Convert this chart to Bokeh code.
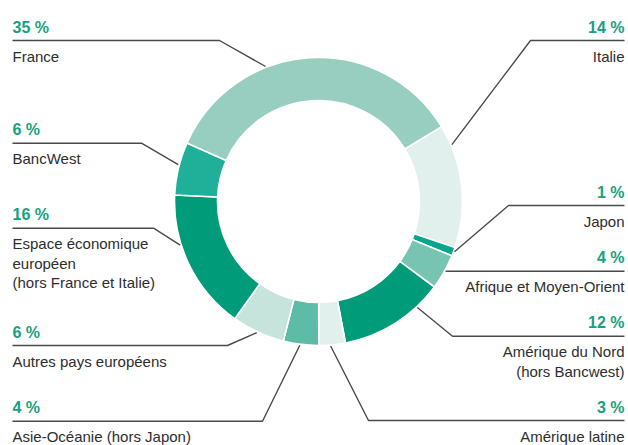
import math
from bokeh.plotting import figure
from bokeh.models import Range1d, ColumnDataSource
from bokeh.core.properties import value
from bokeh.embed import file_html
from bokeh.resources import INLINE

# ---------------- data ----------------
regions = [
    "Italie",
    "Japon",
    "Afrique et Moyen-Orient",
    "Amérique du Nord|(hors Bancwest)",
    "Amérique latine",
    "Asie-Océanie (hors Japon)",
    "Autres pays européens",
    "Espace économique|européen|(hors France et Italie)",
    "BancWest",
    "France",
]
shares = [14, 1, 4, 12, 3, 4, 6, 16, 6, 35]
colors = ["#e1f0ec", "#08a68a", "#77c4b2", "#009b78", "#e1f0ec",
          "#5cbca6", "#c6e4dc", "#009b78", "#20b09a", "#97cebf"]

# ---------------- layout (styling, not data) ----------------
START_DEG = 58.7            # clockwise from north where the first slice starts
CX, CY = 318, 201
R_OUT, R_IN = 144, 101
LEFT_X, RIGHT_X = 12, 624
# side, y of underline, x of knee, angle of leader anchor (deg clockwise from north)
label_layout = [
    ("R", 40.0, 530, 66.9),
    ("R", 205.0, 508, 110.3),
    ("R", 270.7, None, 118.8),
    ("R", 335.7, 452, 137.0),
    ("R", 420.0, 368, 175.2),
    ("L", 420.7, 262, 187.4),
    ("L", 345.0, 227, 205.2),
    ("L", 227.7, 153, 252.5),
    ("L", 142.7, 141, 284.7),
    ("L", 40.0, 219, -21.4),
]

FONT = "'Liberation Sans', Arial, sans-serif"
PCT_FONT = "'Liberation Sans', Arial, sans-serif"
GREEN = "#17a07f"
TXT = "#2e2e2e"
DY = -5.0   # baseline correction

p = figure(width=628, height=445, x_range=Range1d(0, 628), y_range=Range1d(445, 0),
           output_backend="svg", toolbar_location=None, min_border=0,
           x_axis_location=None, y_axis_location=None)
p.grid.visible = False
p.outline_line_color = None
p.background_fill_color = "white"

# ---------------- donut ----------------
total = float(sum(shares))
starts, ends = [], []
acc = START_DEG
for s in shares:
    a0 = acc
    a1 = acc + s / total * 360.0
    acc = a1
    starts.append(math.radians(90 - a1))
    ends.append(math.radians(90 - a0))

src = ColumnDataSource(dict(x=[CX] * len(shares), y=[CY] * len(shares),
                            start=starts, end=ends, color=colors))
p.annular_wedge(x="x", y="y", inner_radius=R_IN, outer_radius=R_OUT,
                start_angle="start", end_angle="end", direction="anticlock",
                fill_color="color", line_color="white", line_width=1.6, source=src)

# ---------------- leaders ----------------
xs, ys = [], []
for side, ly, kx, ang in label_layout:
    ax = CX + 145 * math.sin(math.radians(ang))
    ay = CY - 145 * math.cos(math.radians(ang))
    if side == "L":
        xs.append([LEFT_X, kx, ax]); ys.append([ly, ly, ay])
    else:
        if kx is None:
            xs.append([ax, RIGHT_X]); ys.append([ly, ly])
        else:
            xs.append([ax, kx, RIGHT_X]); ys.append([ay, ly, ly])
p.multi_line(xs=xs, ys=ys, line_color="#4a4a4a", line_width=1.4)

# ---------------- texts ----------------
for side in ("L", "R"):
    px, py, pt = [], [], []
    lx, lyy, lt = [], [], []
    for name, s, (sd, ly, kx, ang) in zip(regions, shares, label_layout):
        if sd != side:
            continue
        x = LEFT_X if side == "L" else RIGHT_X
        px.append(x); py.append(ly - 8.3 + DY); pt.append(f"{s} %")
        for i, line in enumerate(name.split("|")):
            lx.append(x); lyy.append(ly + 20.7 + 19.3 * i + DY); lt.append(line)
    align = "left" if side == "L" else "right"
    p.text(x=px, y=py, text=pt, text_align=align, text_baseline="alphabetic",
           text_font=value(PCT_FONT), text_font_style="bold",
           text_font_size="16px", text_color=GREEN)
    p.text(x=lx, y=lyy, text=lt, text_align=align, text_baseline="alphabetic",
           text_font=value(FONT), text_font_size="15px", text_color=TXT)

open("out.html", "w").write(file_html(p, INLINE))
